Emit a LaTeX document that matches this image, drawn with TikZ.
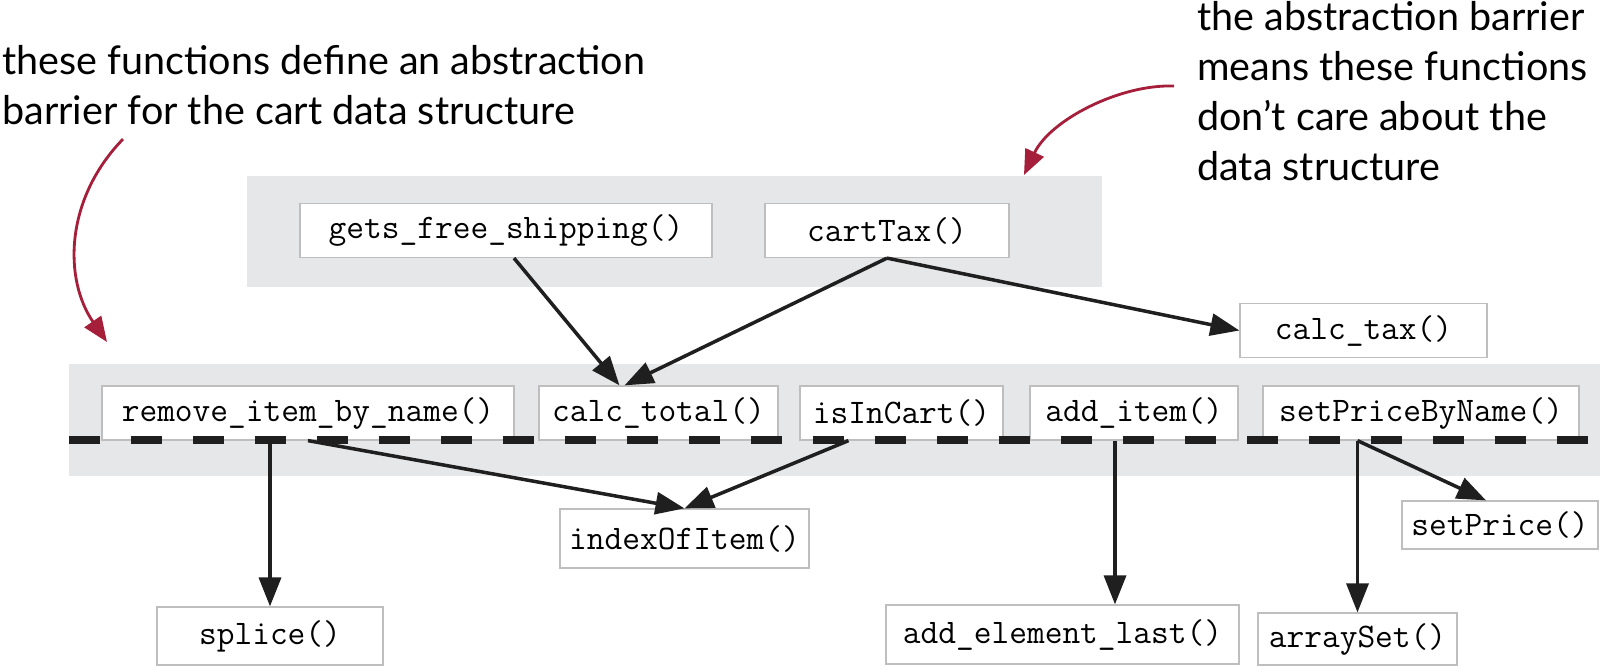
\documentclass[tikz,border=0pt]{standalone}
\usepackage{fontspec}
\usetikzlibrary{arrows.meta}
\newfontfamily\handfont{Lato}
\definecolor{panelgray}{RGB}{230,231,232}
\definecolor{notered}{RGB}{166,31,58}
\definecolor{boxline}{RGB}{190,190,190}

\begin{document}
\begin{tikzpicture}[x=0.02cm, y=-0.02cm,
    fn/.style={draw=boxline, fill=white, line width=0.7pt, font=\ttfamily\fontsize{19.6}{24}\selectfont, inner sep=0pt, minimum height=1.08cm},
    call/.style={-{Triangle[length=0.58cm,width=0.44cm]}, line width=2pt, draw=black!88},
    note/.style={font=\handfont\fontsize{22.5}{28.45}\selectfont, align=left, inner sep=0pt, anchor=north west},
    hint/.style={-{Triangle[length=0.5cm,width=0.4cm]}, line width=1.6pt, draw=notered}]
    \useasboundingbox (0,0) rectangle (1600,666);

    \fill[panelgray] (247,176) rectangle (1102,287);
    \fill[panelgray] (69,364) rectangle (1600,476);

    \node[note] (noteA) at (2,45) {these functions define an abstraction\\barrier for the cart data structure};
    \node[note] (noteB) at (1197,1) {the abstraction barrier\\means these functions\\don’t care about the\\data structure};

    \node[fn, minimum width=8.24cm] (gfs) at (506,230.5) {gets\_free\_shipping()};
    \node[fn, minimum width=4.88cm] (carttax) at (887,230.5) {cartTax()};
    \node[fn, minimum width=4.94cm] (calctax) at (1363.5,330.5) {calc\_tax()};

    \node[fn, minimum width=8.24cm] (rmitem) at (308,413) {remove\_item\_by\_name()};
    \node[fn, minimum width=4.78cm] (total) at (658.5,413) {calc\_total()};
    \node[fn, minimum width=4.06cm] (incart) at (901.5,413) {isInCart()};
    \node[fn, minimum width=4.16cm] (additem) at (1134,413) {add\_item()};
    \node[fn, minimum width=6.32cm] (setbyname) at (1421,413) {setPriceByName()};

    \node[fn, minimum width=4.98cm, minimum height=1.18cm] (indexof) at (684.5,538.5) {indexOfItem()};
    \node[fn, minimum width=4.52cm, minimum height=1.16cm] (splice) at (270,636) {splice()};
    \node[fn, minimum width=7.06cm, minimum height=1.18cm] (addlast) at (1062.5,634.5) {add\_element\_last()};
    \node[fn, minimum width=3.98cm, minimum height=1.04cm] (arrayset) at (1357.5,639) {arraySet()};
    \node[fn, minimum width=3.92cm, minimum height=0.96cm] (setprice) at (1500,525) {setPrice()};

    \draw[line width=4.2pt, draw=black!88, dash pattern=on 0.62cm off 0.62cm] (69,440) -- (1600,440);

    \draw[call] ([xshift=0.16cm]gfs.south) -- ([xshift=-0.78cm]total.north);
    \draw[call] (carttax.south) -- ([xshift=-0.68cm]total.north);
    \draw[call] (carttax.south) -- (calctax.west);
    \draw[call] (rmitem.south) -- (indexof.north);
    \draw[call] (splice.north |- rmitem.south) -- (splice.north);
    \draw[call] ([xshift=-1.06cm]incart.south) -- (indexof.north);
    \coordinate (addout) at ([xshift=-0.38cm]additem.south);
    \draw[call] (addout) -- (addout |- addlast.north);
    \draw[call] (arrayset.north |- setbyname.south) -- (arrayset.north);
    \draw[call] (arrayset.north |- setbyname.south) -- ([xshift=-0.28cm]setprice.north);

    \coordinate (tipA) at (107,342);
    \coordinate (tipB) at (1024,175);
    \draw[hint] ([xshift=2.42cm,yshift=-0.28cm]noteA.south west) .. controls (64,200) and (64,280) .. (tipA);
    \draw[hint] ([xshift=-0.46cm,yshift=0.1cm]noteB.west) .. controls (1120,84) and (1050,120) .. (tipB);
\end{tikzpicture}
\end{document}
